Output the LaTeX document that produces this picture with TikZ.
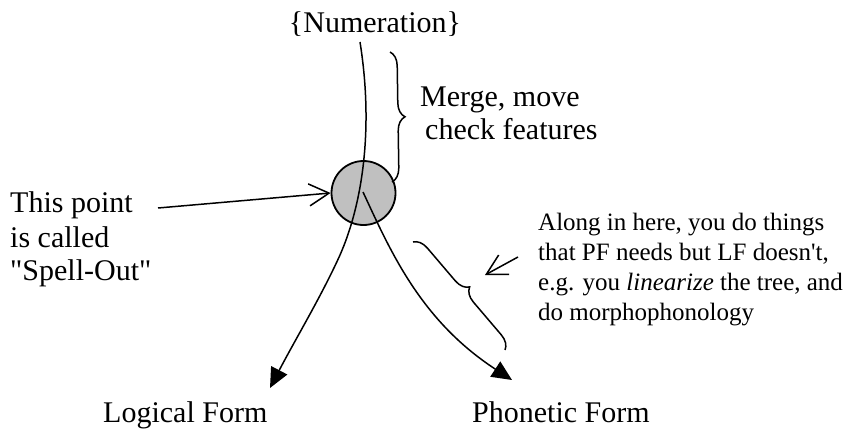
\documentclass[tikz,border=0pt]{standalone}
\usepackage{fontspec}
\setmainfont{Liberation Serif}[Ligatures=TeXOff]
\usetikzlibrary{arrows.meta,decorations.pathreplacing}
\begin{document}
\begin{tikzpicture}[x=1pt,y=-1pt,
  big/.style={inner sep=0pt,anchor=base west,font=\fontsize{30}{34}\selectfont},
  small/.style={inner sep=0pt,anchor=base west,font=\fontsize{25}{30}\selectfont},
  ln/.style={line width=1.5pt},
  solid tip/.style={-{Triangle[length=20pt,width=18pt]}},
  open tip/.style={-{Straight Barb[length=20pt,width=22pt,line width=1.5pt]}},
  brc/.style={ln,decorate,decoration={brace,amplitude=14pt}}]
\useasboundingbox (0,0) rectangle (850,428);
% circle
\node[circle,draw,line width=1.8pt,fill={rgb,255:red,192;green,192;blue,192},minimum size=64pt,inner sep=0pt] (sp) at (363.5,193) {};
% texts
\node[big,anchor=base] (num) at (375,33) {\{Numeration\}};
\node[big] (m1) at (420,106) {Merge, move};
\node[big] (m2) at (425,139) {check features};
\node[big] (t1) at (10,212) {This point};
\node[big] (t2) at (10,247) {is called};
\node[big] (t3) at (10,280) {"Spell-Out"};
\node[small] (a1) at (538,230) {Along in here, you do things};
\node[small] (a2) at (538,260) {that PF needs but LF doesn't,};
\node[small] (a3) at (538,290) {e.g. you \textit{linearize} the tree, and};
\node[small] (a4) at (538,320) {do morphophonology};
\node[big] (lf) at (103,422) {Logical Form};
\node[big] (pf) at (472,422) {Phonetic Form};
% coordinates
\coordinate (top) at (360,42);
\coordinate (mid) at (340,255);
\coordinate (lftip) at (270,388);
\coordinate (br) at (363,192);
\coordinate (pftip) at (512,380);
\coordinate (tstart) at (158,208);
\coordinate (b1a) at (390,52);
\coordinate (b1b) at (392,182);
\coordinate (b2a) at (413,242);
\coordinate (b2b) at (505,350);
\coordinate (astart) at (518,257);
\coordinate (aend) at (485,275);
% main lines
\draw[ln] (top) .. controls (374,130) and (362,205) .. (mid);
\draw[ln,solid tip] (mid) .. controls (322,295) and (295,340) .. (lftip);
\draw[ln,solid tip] (br) .. controls (390,250) and (420,320) .. (pftip);
% annotations
\draw[ln,open tip] (tstart) -- (sp.west);
\draw[brc] (b1a) -- (b1b);
\draw[brc] (b2a) -- (b2b);
\draw[ln,open tip] (astart) -- (aend);
\end{tikzpicture}
\end{document}
